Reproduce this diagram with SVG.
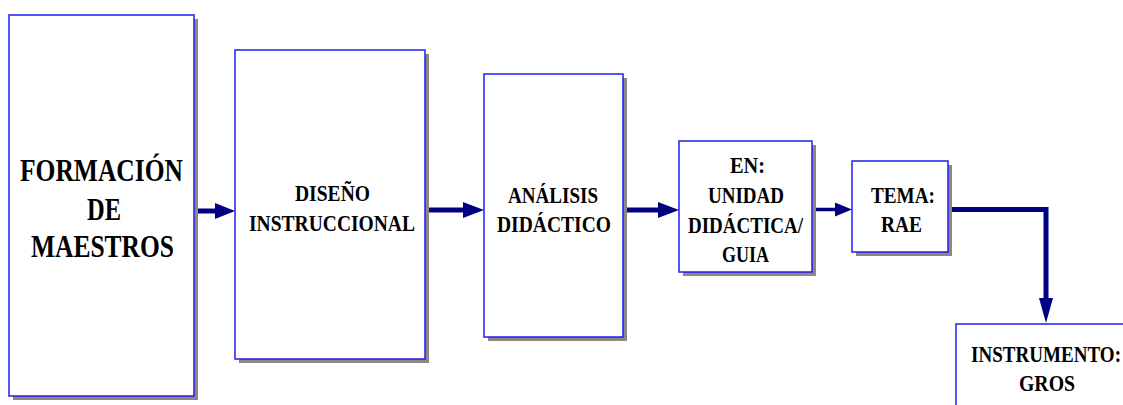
<svg xmlns="http://www.w3.org/2000/svg" width="1123" height="405" viewBox="0 0 1123 405">
<defs>
<style>
.shadow{fill:#8f8787}
.box{fill:#ffffff;stroke:#1e1ef0;stroke-width:1.5}
.t{font-family:'Liberation Serif','Times New Roman',serif;font-weight:bold;fill:#000000}
.t1{font-size:31px}
.t2{font-size:23px}
.ln{stroke:#000080;fill:none;stroke-width:5}
.ah{fill:#000080}
</style>
</defs>
<rect width="1123" height="405" fill="#ffffff"/>
<g id="connectors">
<line class="ln" x1="198" y1="211" x2="217" y2="211"/>
<polygon class="ah" points="215,203 235,211 215,219"/>
<line class="ln" x1="429" y1="210" x2="465" y2="210"/>
<polygon class="ah" points="463,202 484,210 463,218"/>
<line class="ln" x1="627" y1="210" x2="660" y2="210"/>
<polygon class="ah" points="658,202 679,210 658,218"/>
<line class="ln" x1="816" y1="209.5" x2="837" y2="209.5" style="stroke-width:3.5"/>
<polygon class="ah" points="835,202.5 852,209.5 835,216.5"/>
<path class="ln" d="M952,209.5 H1046 V300"/>
<polygon class="ah" points="1039,298 1046,323 1053,298"/>
</g>
<g id="node-formacion">
<rect class="shadow" x="13" y="19" width="185" height="381"/>
<rect class="box" x="9" y="15" width="185" height="381"/>
<text class="t t1" x="20" y="181" textLength="163" lengthAdjust="spacingAndGlyphs">FORMACIÓN</text>
<text class="t t1" x="87" y="220" textLength="34" lengthAdjust="spacingAndGlyphs">DE</text>
<text class="t t1" x="31" y="257" textLength="143" lengthAdjust="spacingAndGlyphs">MAESTROS</text>
</g>
<g id="node-diseno">
<rect class="shadow" x="239" y="54" width="190" height="309"/>
<rect class="box" x="235" y="50" width="190" height="309"/>
<text class="t t2" x="295" y="201" textLength="75" lengthAdjust="spacingAndGlyphs">DISEÑO</text>
<text class="t t2" x="249" y="231" textLength="166" lengthAdjust="spacingAndGlyphs">INSTRUCCIONAL</text>
</g>
<g id="node-analisis">
<rect class="shadow" x="488" y="78" width="139" height="263"/>
<rect class="box" x="484" y="74" width="139" height="263"/>
<text class="t t2" x="508" y="203" textLength="90" lengthAdjust="spacingAndGlyphs">ANÁLISIS</text>
<text class="t t2" x="497" y="232" textLength="114" lengthAdjust="spacingAndGlyphs">DIDÁCTICO</text>
</g>
<g id="node-unidad">
<rect class="shadow" x="683" y="145" width="133" height="131"/>
<rect class="box" x="679" y="141" width="133" height="131"/>
<text class="t t2" x="730" y="173" textLength="35" lengthAdjust="spacingAndGlyphs">EN:</text>
<text class="t t2" x="708" y="203" textLength="76" lengthAdjust="spacingAndGlyphs">UNIDAD</text>
<text class="t t2" x="688" y="233" textLength="115" lengthAdjust="spacingAndGlyphs">DIDÁCTICA/</text>
<text class="t t2" x="722" y="262" textLength="47" lengthAdjust="spacingAndGlyphs">GUIA</text>
</g>
<g id="node-tema">
<rect class="shadow" x="856" y="165" width="96" height="91"/>
<rect class="box" x="852" y="161" width="96" height="91"/>
<text class="t t2" x="871" y="203" textLength="64" lengthAdjust="spacingAndGlyphs">TEMA:</text>
<text class="t t2" x="881" y="232" textLength="41" lengthAdjust="spacingAndGlyphs">RAE</text>
</g>
<g id="node-instrumento">
<rect class="box" x="956" y="324" width="220" height="120"/>
<text class="t t2" x="971" y="362" textLength="150" lengthAdjust="spacingAndGlyphs">INSTRUMENTO:</text>
<text class="t t2" x="1019" y="391" textLength="56" lengthAdjust="spacingAndGlyphs">GROS</text>
</g>
</svg>
